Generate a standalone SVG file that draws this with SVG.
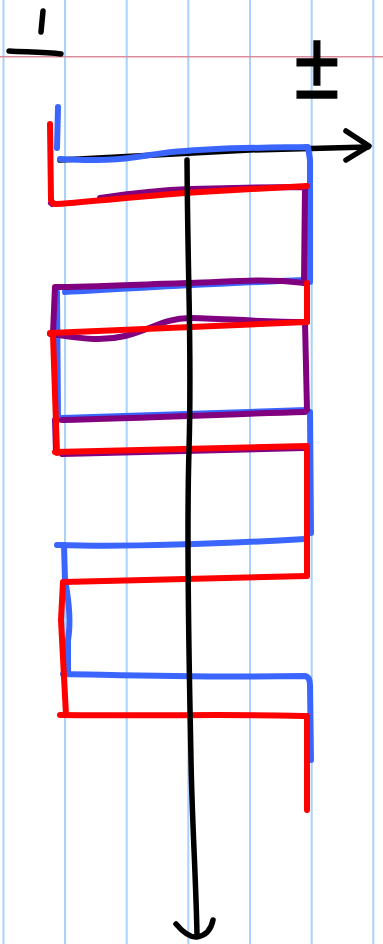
<svg xmlns="http://www.w3.org/2000/svg" width="383" height="944" viewBox="0 0 383 944">
<style>
.rule{stroke:#a8d1fc;stroke-width:2;fill:none}
.margin{stroke:#d98c9c;stroke-width:1.6;fill:none}
.ink{fill:none;stroke-linecap:round;stroke-linejoin:round}
.blue{stroke:#3a66ff;stroke-width:6}
.purple{stroke:#800080;stroke-width:6}
.red{stroke:#ff0000;stroke-width:6}
.black{stroke:#000;stroke-width:5.5}
</style>
<rect width="383" height="944" fill="#fff"/>
<g id="paper">
<line class="rule" x1="3.5" y1="0" x2="3.5" y2="944"/>
<line class="rule" x1="65" y1="0" x2="65" y2="944"/>
<line class="rule" x1="126.7" y1="0" x2="126.7" y2="944"/>
<line class="rule" x1="188.3" y1="0" x2="188.3" y2="944"/>
<line class="rule" x1="250" y1="0" x2="250" y2="944"/>
<line class="rule" x1="311.7" y1="0" x2="311.7" y2="944"/>
<line class="rule" x1="373.3" y1="0" x2="373.3" y2="944"/>
<line class="margin" x1="0" y1="56.7" x2="383" y2="56.7"/>
</g>
<g id="marks" class="ink black">
<path d="M43,11 L41,32"/>
<path d="M9,51 C25,52 45,52 61,54"/>
</g>
<g id="label-pm">
<text transform="translate(317,98) scale(0.85,1)" text-anchor="middle" font-family="Liberation Sans, Arial, sans-serif" font-size="96" fill="#000" stroke="#000" stroke-width="1.5">±</text>
</g>
<g id="t-axis">
<path class="ink black" d="M60,160 L250,150 L368,147"/>
<path class="ink black" d="M346,131 L369,146 L346,160"/>
</g>
<g id="blue-strokes" class="ink blue">
<path d="M58,107 L57,148"/>
<path d="M60,159 C90,160 110,162 150,155 S250,148 308,147 L310,160 L310,282"/>
<path d="M65,292 C120,289 200,284 305,280"/>
<path d="M57,292 L58,420"/>
<path d="M62,418 C150,415 230,412 307,410"/>
<path d="M310,412 L311,533"/>
<path d="M57,545 C120,547 200,545 305,539"/>
<path d="M64,545 L65,580 Q72,617 68,640 L68,672"/>
<path d="M63,674 C120,675 200,678 305,676 Q310,677 310,685 L311,760"/>
</g>
<g id="purple-strokes" class="ink purple">
<path d="M51,203 L52,204"/>
<path d="M100,198 C140,192 160,190 190,189 S260,187 305,187 L304,283"/>
<path d="M305,283 C260,278 230,282 190,283 S90,287 55,287 L53,333"/>
<path d="M50,334 C80,338 100,342 125,336 S165,318 190,318 S260,322 305,322 L307,410"/>
<path d="M62,420 C150,418 230,414 305,412"/>
<path d="M55,420 L56,452"/>
<path d="M62,454 C150,452 230,450 305,448"/>
</g>
<g id="red-strokes" class="ink red">
<path d="M50,124 L51,200 Q52,204 56,204 C100,201 150,195 200,192 L307,186"/>
<path d="M307,283 L307,322"/>
<path d="M50,333 C120,330 200,326 307,322"/>
<path d="M53,335 L57,453"/>
<path d="M55,452 C120,450 200,448 307,446 L307,575"/>
<path d="M307,576 C250,578 150,580 63,582 L61,620 L66,715"/>
<path d="M60,715 C150,716 250,714 307,716 L307,810"/>
</g>
<g id="x-axis">
<path class="ink black" d="M187,160 C188,300 192,350 189,450 S190,700 191,760 S196,880 197,935"/>
<path class="ink black" d="M176,924 Q188,938 197,937 Q210,935 213,920"/>
</g>
</svg>
